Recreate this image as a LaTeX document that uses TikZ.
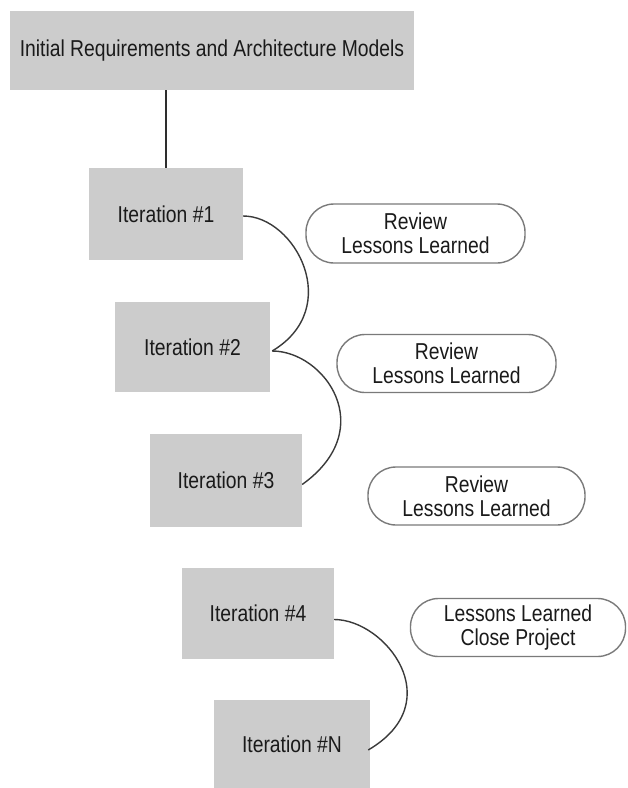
\documentclass[tikz,border=0pt]{standalone}
\usepackage{fontspec}
\setmainfont{Liberation Sans}[FakeStretch=0.84]
\definecolor{boxgray}{HTML}{CCCCCC}
\definecolor{pillline}{HTML}{7A7A7A}
\definecolor{curvecol}{HTML}{3A3A3A}
\definecolor{txt}{HTML}{1A1A1A}
\begin{document}
\begin{tikzpicture}[x=1pt,y=-1pt,
  every node/.style={font=\fontsize{23}{24}\selectfont, text=txt},
  grayboxstyle/.style={fill=boxgray, draw=none, inner sep=0pt, align=center},
  pillstyle/.style={draw=pillline, line width=1.4pt, fill=white, rounded corners=28pt,
     minimum width=217pt, minimum height=58pt, inner sep=0pt, align=center},
  linkstyle/.style={draw=curvecol, line width=1.4pt},
  stemstyle/.style={draw=curvecol!80!black, line width=1.8pt}]
\useasboundingbox (0,0) rectangle (628,788);
\fill[white] (0,0) rectangle (628,788);

\node[grayboxstyle, minimum width=404pt, minimum height=79pt] (top) at (212,50.5)
  {Initial Requirements and Architecture Models};
\node[grayboxstyle, minimum width=154pt, minimum height=92pt] (it1) at (166,214) {Iteration \#1};
\node[grayboxstyle, minimum width=155pt, minimum height=90pt] (it2) at (192.5,347) {Iteration \#2};
\node[grayboxstyle, minimum width=152pt, minimum height=93pt] (it3) at (226,480.5) {Iteration \#3};
\node[grayboxstyle, minimum width=152pt, minimum height=91pt] (it4) at (258,613.5) {Iteration \#4};
\node[grayboxstyle, minimum width=156pt, minimum height=88pt] (itN) at (292,744) {Iteration \#N};

\node[pillstyle, minimum width=219pt, minimum height=59pt] (l1) at (415.5,233.5) {Review\\Lessons Learned};
\node[pillstyle, minimum width=219pt] (l2) at (446.5,363.5) {Review\\Lessons Learned};
\node[pillstyle] (l3) at (476.5,496) {Review\\Lessons Learned};
\node[pillstyle, minimum width=215pt] (l4) at (518,627.5) {Lessons Learned\\Close Project};

\draw[stemstyle] (it1.north) -- (it1.north |- top.south);

\coordinate (c1s) at ([yshift=-2pt]it1.east);
\coordinate (c1e) at ([xshift=2pt,yshift=-4pt]it2.east);
\coordinate (c2e) at ([yshift=-4pt]it3.east);
\coordinate (c3s) at ([yshift=-6pt]it4.east);
\coordinate (c3e) at ([xshift=-2pt,yshift=-6pt]itN.east);

\draw[linkstyle] (c1s) .. controls +(52,0) and +(72,-43) .. (c1e);
\draw[linkstyle] (c1e) .. controls +(52,0) and +(78,-56) .. (c2e);
\draw[linkstyle] (c3s) .. controls +(51,0) and +(82,-48) .. (c3e);
\end{tikzpicture}
\end{document}
